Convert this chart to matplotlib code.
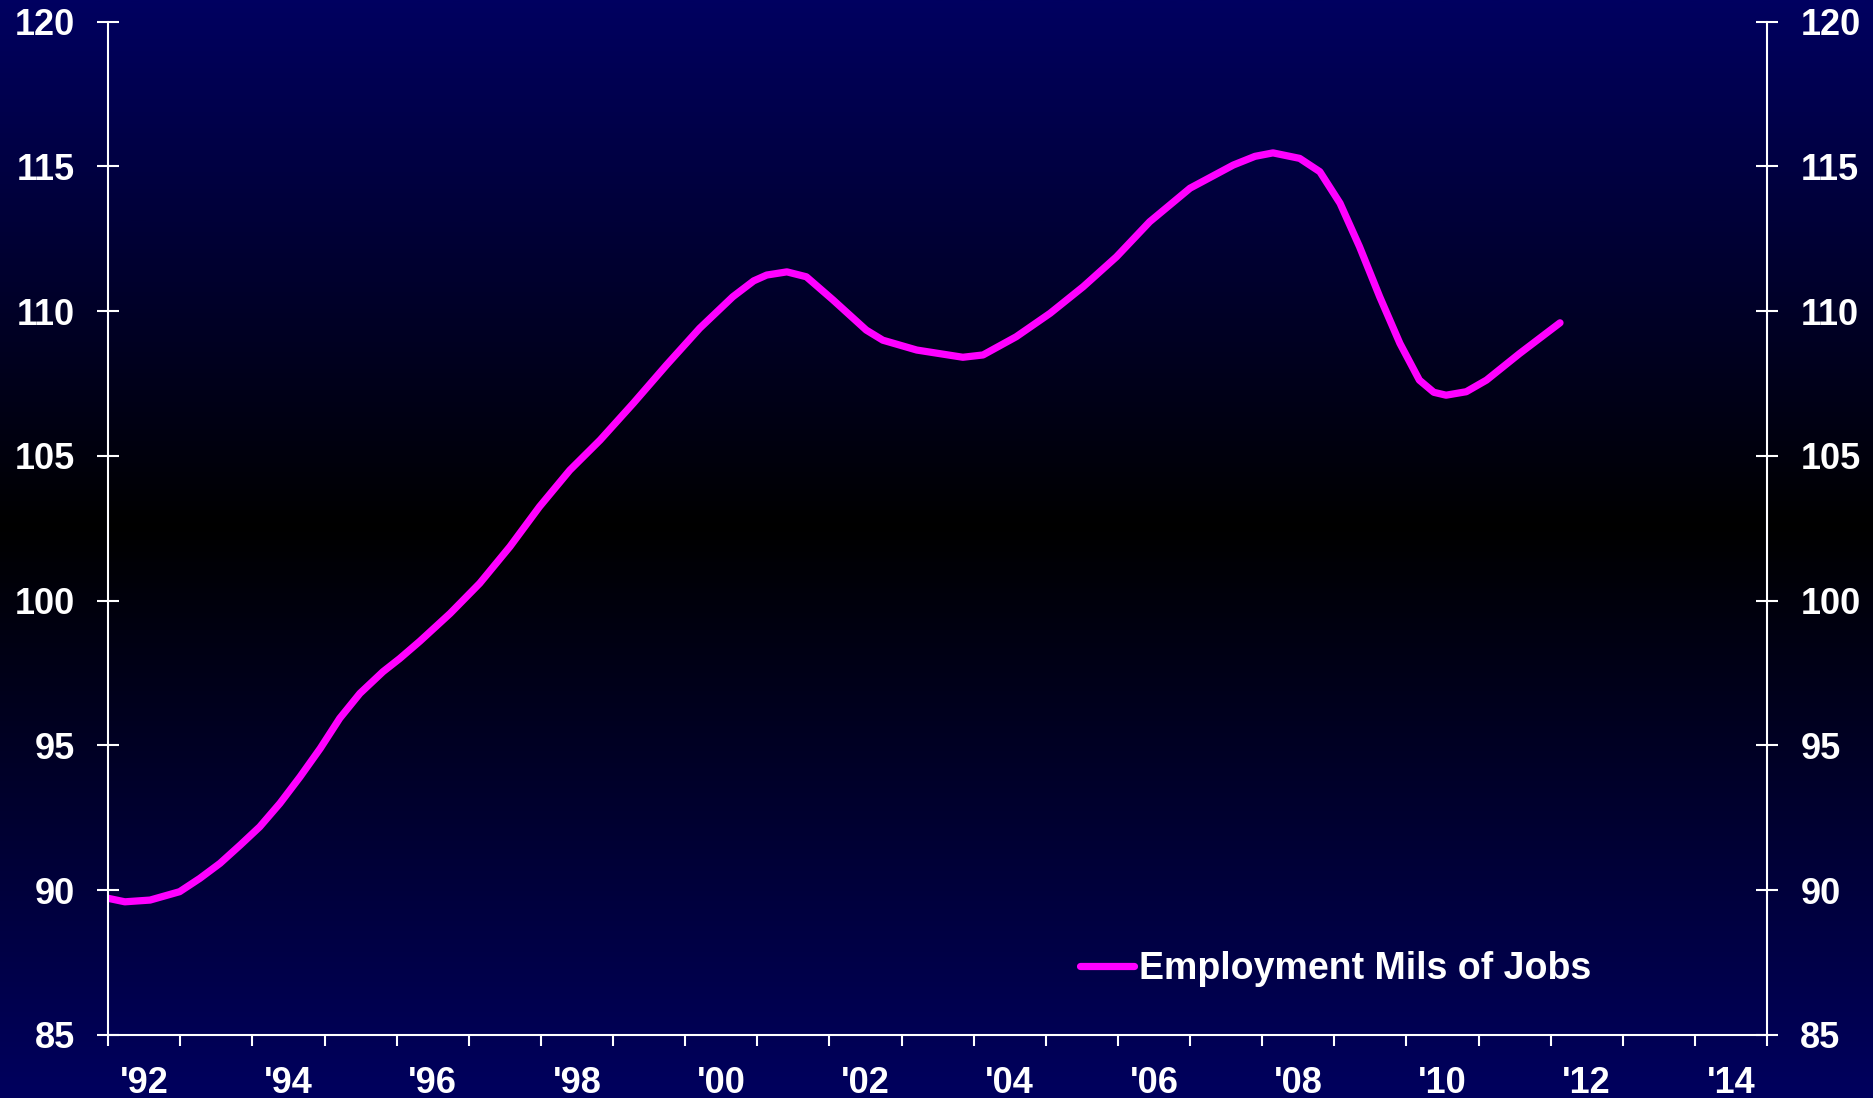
import numpy as np
import matplotlib
matplotlib.use("Agg")
import matplotlib.pyplot as plt
from matplotlib.colors import LinearSegmentedColormap

plt.rcParams['font.family'] = ['Liberation Sans', 'DejaVu Sans']
plt.rcParams['font.weight'] = 'bold'

# employment, millions of jobs
years = [1992.00, 1992.23, 1992.58, 1992.99, 1993.27, 1993.55, 1993.83, 1994.10,
         1994.38, 1994.66, 1994.94, 1995.21, 1995.49, 1995.81, 1996.04, 1996.32,
         1996.74, 1997.15, 1997.57, 1997.98, 1998.40, 1998.82, 1999.28, 1999.74,
         2000.20, 2000.66, 2000.95, 2001.13, 2001.41, 2001.68, 2002.05, 2002.51,
         2002.74, 2003.21, 2003.85, 2004.13, 2004.59, 2005.06, 2005.52, 2005.98,
         2006.44, 2007.00, 2007.60, 2007.90, 2008.15, 2008.52, 2008.80, 2009.08,
         2009.35, 2009.63, 2009.91, 2010.18, 2010.38, 2010.55, 2010.83, 2011.11,
         2011.57, 2012.13]
jobs = [89.72, 89.60, 89.66, 89.95, 90.41, 90.93, 91.56, 92.19,
        93.00, 93.92, 94.90, 95.94, 96.80, 97.55, 98.00, 98.60,
        99.56, 100.60, 101.87, 103.25, 104.51, 105.55, 106.82, 108.14,
        109.41, 110.50, 111.05, 111.25, 111.36, 111.19, 110.39, 109.35,
        109.00, 108.66, 108.41, 108.49, 109.12, 109.93, 110.85, 111.88,
        113.09, 114.25, 115.05, 115.35, 115.47, 115.28, 114.82, 113.73,
        112.23, 110.50, 108.89, 107.62, 107.20, 107.10, 107.22, 107.62,
        108.54, 109.60]
series_label = "Employment Mils of Jobs"

year_ticks = list(range(1992, 2016))
label_years = list(range(1992, 2015, 2))
tick_labels = ["'%02d" % (y % 100) for y in label_years]
y_ticks = [85, 90, 95, 100, 105, 110, 115, 120]

fig = plt.figure(figsize=(18.73, 10.98), dpi=100)

# background gradient: navy -> black -> navy
bg = fig.add_axes([0, 0, 1, 1], zorder=-10)
cmap = LinearSegmentedColormap.from_list('bg', [(0.0, '#000060'), (0.48, '#000000'), (1.0, '#00005e')])
bg.imshow(np.linspace(0, 1, 512).reshape(-1, 1), aspect='auto', cmap=cmap,
          extent=[0, 1, 1, 0])
bg.set_axis_off()

ax = fig.add_axes([0.0578, 0.0574, 0.9434 - 0.0578, 0.9802 - 0.0574])
ax.set_facecolor('none')

line, = ax.plot(years, jobs, color='#ff00ff', lw=5.2, solid_capstyle='round',
                solid_joinstyle='round', label=series_label)

ax.set_xlim(1992, 2015)
ax.set_ylim(85, 120)

for side in ['left', 'right', 'bottom']:
    ax.spines[side].set_color('white')
    ax.spines[side].set_linewidth(1.5)
ax.spines['top'].set_visible(False)

ax.set_yticks(y_ticks)
ax.set_yticklabels([str(v) for v in y_ticks])
ax.tick_params(axis='y', which='major', direction='inout', length=16, width=1.5,
               colors='white', labelsize=26, pad=16, left=True, right=True,
               labelleft=True, labelright=True)

ax.set_xticks(year_ticks)
ax.set_xticklabels([])
ax.set_xticks([y + 0.5 for y in label_years], minor=True)
ax.set_xticklabels(tick_labels, minor=True)
ax.tick_params(axis='x', which='major', direction='out', length=8, width=1.5,
               colors='white')
ax.tick_params(axis='x', which='minor', length=0, colors='white', labelsize=26, pad=22)

for lab in ax.get_xticklabels(minor=True) + ax.get_yticklabels():
    lab.set_fontweight('bold')
for lab in ax.yaxis.get_ticklabels(which='both'):
    lab.set_fontweight('bold')

leg = ax.legend(loc='center left', bbox_to_anchor=(0.5858, 0.0651), frameon=False,
                fontsize=27, handlelength=1.45, handletextpad=0.12,
                borderpad=0, borderaxespad=0)
for t in leg.get_texts():
    t.set_color('white')
    t.set_fontweight('bold')

fig.savefig('out.png', dpi=100)
